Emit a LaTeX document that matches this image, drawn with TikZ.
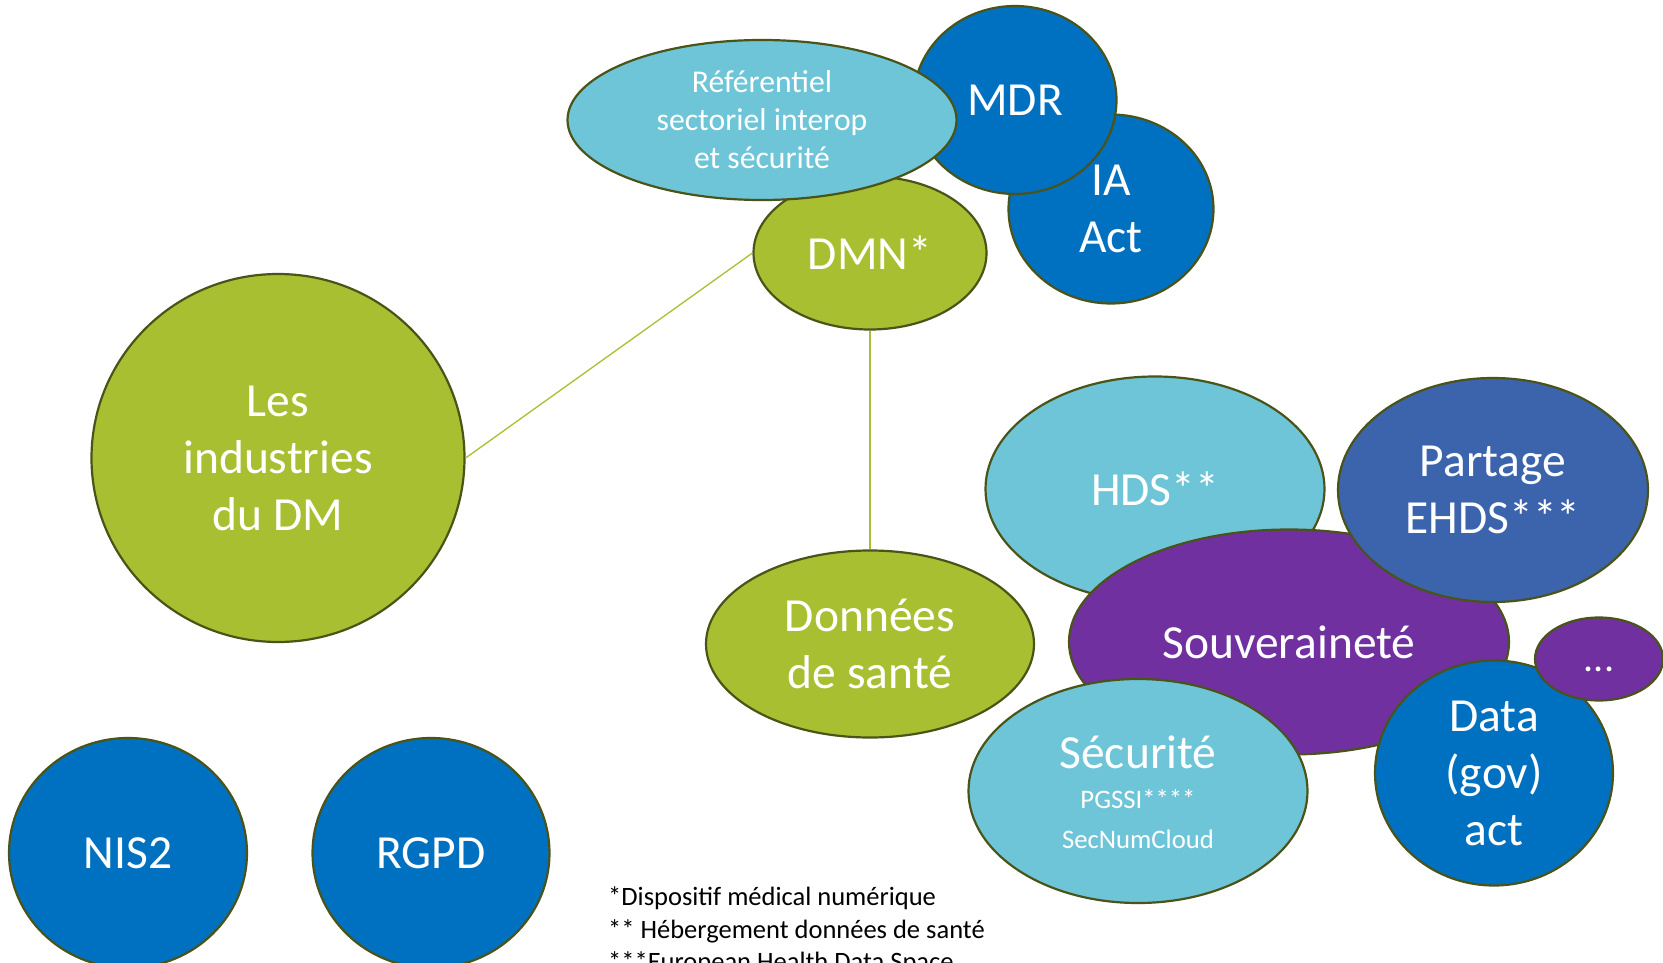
\documentclass[tikz,border=0pt]{standalone}
\usepackage{fontspec}
\setmainfont{Carlito}
\usepackage{xcolor}
\usepackage{tikz}
\usetikzlibrary{shapes.geometric}
\definecolor{rim}{HTML}{4A5418}
\definecolor{dmgreen}{HTML}{A9BF32}
\definecolor{dmsky}{HTML}{6FC5D8}
\definecolor{dmblue}{HTML}{0070C0}
\definecolor{dmnavy}{HTML}{3B64AD}
\definecolor{dmpurple}{HTML}{7030A0}

\begin{document}
\begin{tikzpicture}[x=1pt,y=-1pt,
    bubble/.style={ellipse,draw=rim,line width=2.2pt,inner sep=0pt},
    word/.style={text=white,align=center,inner sep=0pt,font=\fontsize{47.5}{57}\selectfont},
    small/.style={word,font=\fontsize{31.7}{38}\selectfont},
    note/.style={anchor=base west,inner sep=0pt,font=\fontsize{26.5}{32.7}\selectfont},
    link/.style={draw=dmgreen,line width=1.3pt}]
    \useasboundingbox (0,0) rectangle (1663,963);
    \node[bubble,fill=dmgreen,minimum width=373pt,minimum height=368pt] (ind) at (278,458) {};
    \node[word] (ind-t) at (ind) {Les\\industries\\du DM};
    \node[bubble,fill=dmblue,minimum width=205pt,minimum height=189pt] (ia) at (1111,209) {};
    \node[word] (ia-t) at (ia) {IA\\Act};
    \node[bubble,fill=dmblue,minimum width=203pt,minimum height=188pt] (mdr) at (1015,100) {};
    \node[word] (mdr-t) at (mdr) {MDR};
    \node[bubble,fill=dmgreen,minimum width=233pt,minimum height=153pt] (dmn) at (870,253) {};
    \node[word] (dmn-t) at (dmn) {DMN*};
    \node[bubble,fill=dmsky,minimum width=389pt,minimum height=160pt] (ref) at (762,120) {};
    \node[small] (ref-t) at (ref) {Référentiel\\sectoriel interop\\et sécurité};
    \node[bubble,fill=dmgreen,minimum width=328pt,minimum height=187pt] (don) at (870,644) {};
    \node[word] (don-t) at (don) {Données\\de santé};
    \node[bubble,fill=dmsky,minimum width=339pt,minimum height=225pt] (hds) at (1155,489) {};
    \node[word] (hds-t) at (hds) {HDS**};
    \node[bubble,fill=dmpurple,minimum width=440pt,minimum height=225pt] (sou) at (1289,642) {};
    \node[word] (sou-t) at (sou) {Souveraineté};
    \node[bubble,fill=dmnavy,minimum width=310pt,minimum height=224pt] (par) at (1493,490) {};
    \node[word] (par-t) at (par) {Partage\\EHDS***};
    \node[bubble,fill=dmsky,minimum width=339pt,minimum height=224pt] (sec) at (1138,791) {};
    \node[word,font=\fontsize{26.7}{40}\selectfont] (sec-t) at (1138,792)
      {{\fontsize{47.5}{57}\selectfont Sécurité}\\[0pt]PGSSI****\\SecNumCloud};
    \node[bubble,fill=dmblue,minimum width=238pt,minimum height=225pt] (data) at (1494,773) {};
    \node[word] (data-t) at (data) {Data\\(gov)\\act};
    \node[bubble,fill=dmpurple,minimum width=128pt,minimum height=83pt] (etc) at (1599,659) {};
    \node[word,font=\fontsize{40}{42}\selectfont] (etc-t) at (1599,669) {...};
    \node[bubble,fill=dmblue,minimum width=238pt,minimum height=230pt] (nis) at (128,853) {};
    \node[word] (nis-t) at (nis) {NIS2};
    \node[bubble,fill=dmblue,minimum width=237pt,minimum height=230pt] (rgpd) at (431,853) {};
    \node[word] (rgpd-t) at (rgpd) {RGPD};
    \draw[link] (dmn.west) -- (ind.east);
    \draw[link] (dmn.south) -- (don.north);
    \node[note] (fn1) at (608,905) {*Dispositif médical numérique};
    \node[note] (fn2) at (608,938) {** Hébergement données de santé};
    \node[note] (fn3) at (608,970) {***European Health Data Space};
\end{tikzpicture}
\end{document}
